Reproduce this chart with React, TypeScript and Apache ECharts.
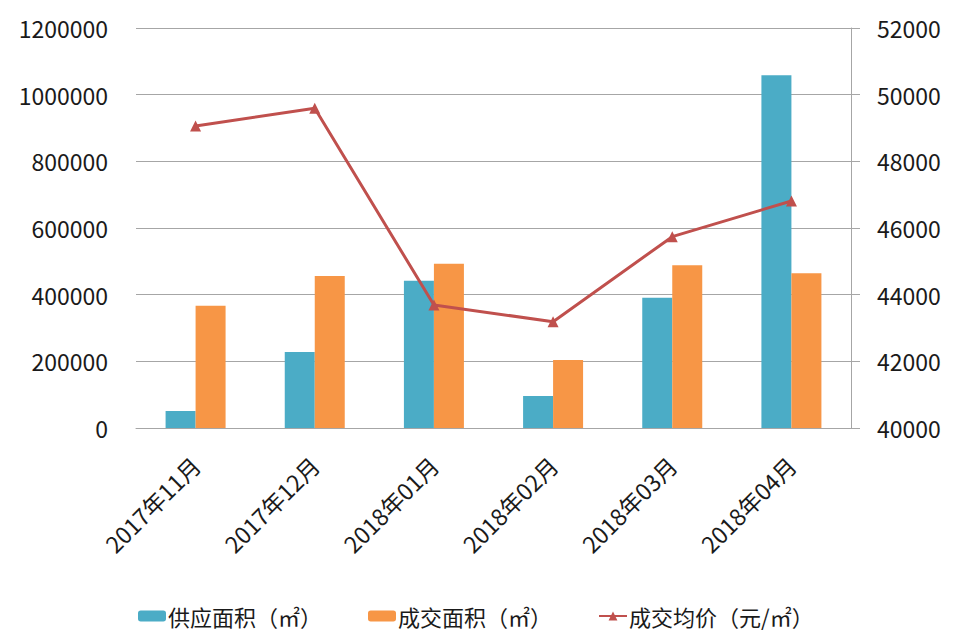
import React, { useEffect, useRef } from "react";
import * as echarts from "echarts";

const categories = ["2017年11月", "2017年12月", "2018年01月", "2018年02月", "2018年03月", "2018年04月"];
const supplyArea = [51000, 228000, 442000, 96000, 391000, 1058000];
const dealArea = [367000, 456000, 493000, 204000, 488000, 464000];
const avgPrice = [49060, 49590, 43690, 43190, 45740, 46810];
const seriesNames = ["供应面积（㎡）", "成交面积（㎡）", "成交均价（元/㎡）"];

const FONT = "'Noto Sans CJK SC', 'Noto Sans', sans-serif";
const TEXT = "#1a1a1a";
const GRID = "#A6A6A6";

export default function App() {
  const ref = useRef<HTMLDivElement>(null);
  useEffect(() => {
    if (!ref.current) return;
    const chart = echarts.init(ref.current, undefined, { renderer: "svg" });
    chart.setOption({
      animation: false,
      backgroundColor: "#ffffff",
      textStyle: { fontFamily: FONT },
      grid: { left: 136, right: 109, top: 28, bottom: 209 },
      legend: {
        left: 133,
        top: 600,
        itemWidth: 28,
        itemHeight: 11,
        itemGap: 46,
        textStyle: { fontSize: 22, color: TEXT, fontFamily: FONT, padding: [0, 0, 0, -3] },
        data: seriesNames,
      },
      xAxis: {
        type: "category",
        data: categories,
        axisTick: { show: false },
        axisLine: { show: true, lineStyle: { color: GRID, width: 1 } },
        axisLabel: { rotate: 45, margin: 33, fontSize: 23, color: TEXT, fontFamily: FONT, interval: 0 },
      },
      yAxis: [
        {
          type: "value",
          min: 0,
          max: 1200000,
          interval: 200000,
          axisLine: { show: false },
          axisTick: { show: false },
          splitLine: { show: true, lineStyle: { color: GRID, width: 1 } },
          axisLabel: { margin: 28, fontSize: 23, color: TEXT, fontFamily: FONT, formatter: (v: number) => String(v) },
        },
        {
          type: "value",
          min: 40000,
          max: 52000,
          interval: 2000,
          position: "right",
          axisLine: { show: true, lineStyle: { color: GRID, width: 1 } },
          axisTick: { show: true, inside: false, length: 9, lineStyle: { color: GRID } },
          splitLine: { show: false },
          axisLabel: { margin: 26, fontSize: 23, color: TEXT, fontFamily: FONT, formatter: (v: number) => String(v) },
        },
      ],
      series: [
        {
          name: seriesNames[0],
          type: "bar",
          data: supplyArea,
          barWidth: 30,
          barGap: "0%",
          itemStyle: { color: "#4BACC6" },
        },
        {
          name: seriesNames[1],
          type: "bar",
          data: dealArea,
          barWidth: 30,
          barGap: "0%",
          itemStyle: { color: "#F79646" },
        },
        {
          name: seriesNames[2],
          type: "line",
          yAxisIndex: 1,
          data: avgPrice,
          symbol: "triangle",
          symbolSize: 11,
          lineStyle: { color: "#C0504D", width: 3 },
          itemStyle: { color: "#C0504D" },
        },
      ],
    });
    return () => chart.dispose();
  }, []);
  return <div ref={ref} style={{ position: "fixed", left: 0, top: 0, width: 960, height: 637 }} />;
}
